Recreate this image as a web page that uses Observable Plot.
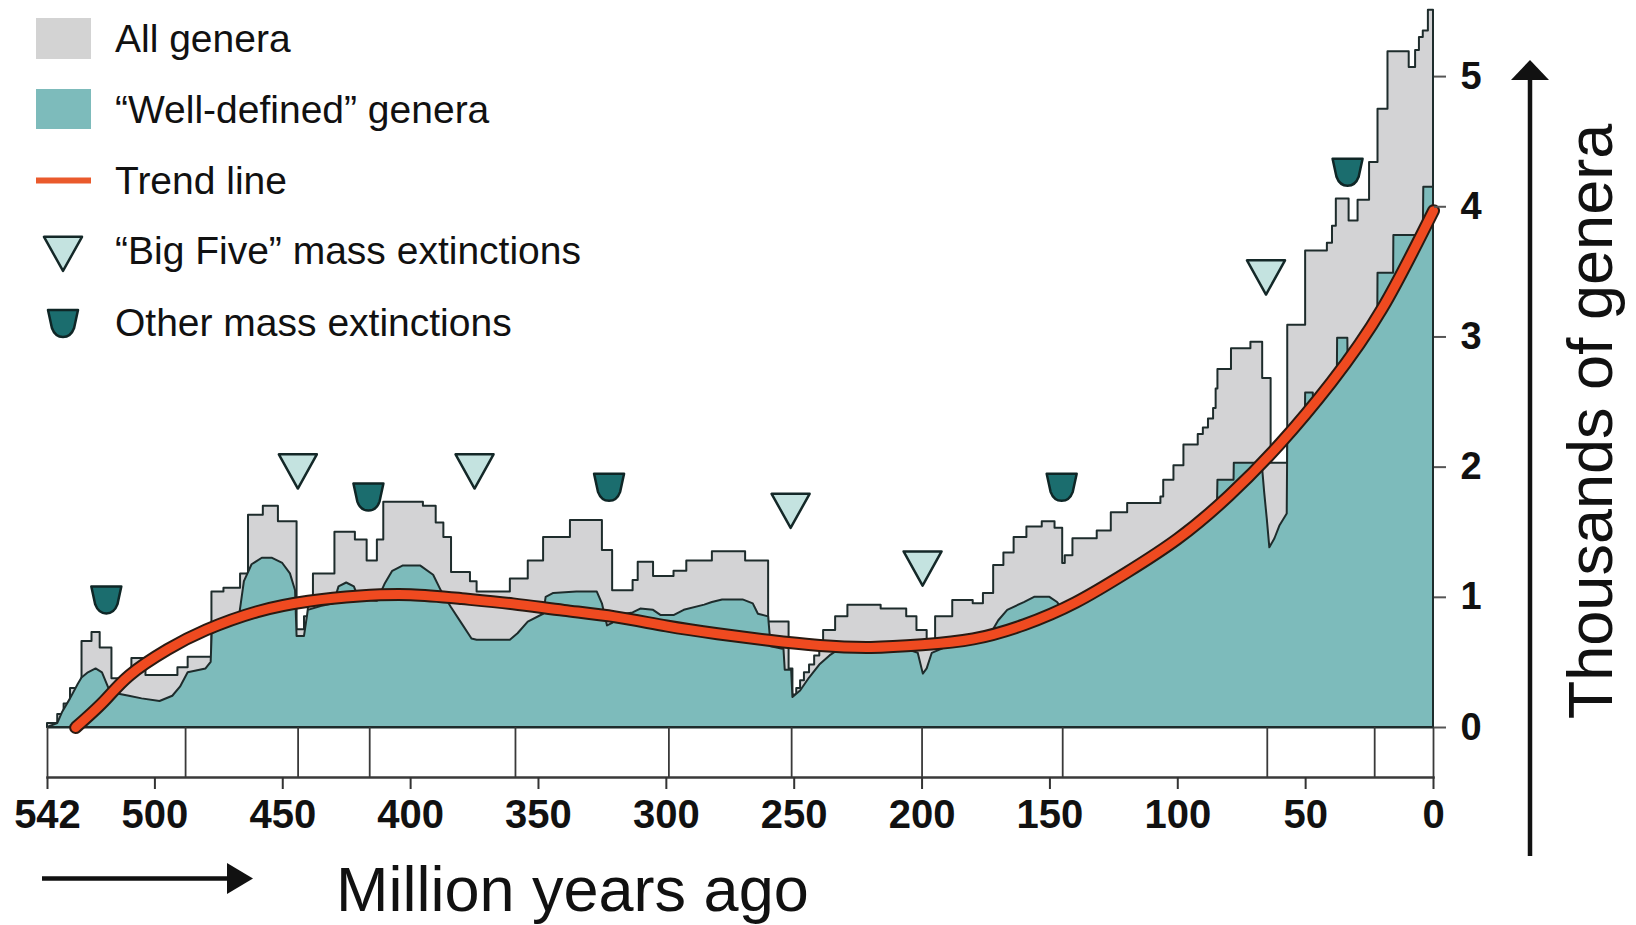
<!DOCTYPE html>
<html><head><meta charset="utf-8">
<script src="https://cdn.jsdelivr.net/npm/d3@7"></script>
<script src="https://cdn.jsdelivr.net/npm/@observablehq/plot@0.6"></script>
<style>html,body{margin:0;padding:0;background:#fff;} #chart{position:relative;width:1636px;height:925px;}</style>
</head><body><div id="chart"></div>
<script>
// ---- DATA (ages in million years ago, values in thousands of genera) ----
const grayAges = [542, 538, 535.5, 533, 528.5, 524.6, 521.4, 516.8, 509, 503.5, 491, 487, 477.7, 473, 466.5, 463.4, 457.6, 451.7, 444.4, 441.5, 440, 438, 429.6, 421.6, 417, 413, 410.5, 395, 390, 387, 384, 376.6, 374, 361, 354, 348, 337.5, 325, 321, 313, 311, 305, 297, 292, 282, 269, 260, 252, 250.5, 249, 247.5, 246, 244, 242, 240, 238.5, 233.8, 229, 216, 206, 202, 198, 194.7, 188, 180, 176, 172, 168, 164, 159, 153, 148, 145, 144, 141, 131.5, 126, 119.6, 106.6, 105.5, 101.5, 97.6, 92, 90, 88, 86, 85, 84.3, 79, 71.4, 66.8, 63.5, 57, 50, 41.5, 39.5, 38, 33, 29.5, 25, 21.7, 17.8, 9.5, 7, 5.5, 4, 2, 0];
const grayValues = [0.03, 0.10, 0.18, 0.30, 0.66, 0.73, 0.61, 0.375, 0.53, 0.40, 0.46, 0.54, 1.04, 1.07, 1.18, 1.63, 1.70, 1.58, 0.75, 0.85, 1.0, 1.18, 1.50, 1.44, 1.28, 1.44, 1.73, 1.70, 1.57, 1.46, 1.19, 1.12, 1.04, 1.14, 1.28, 1.46, 1.59, 1.36, 1.05, 1.13, 1.27, 1.16, 1.20, 1.28, 1.35, 1.28, 0.81, 0.45, 0.25, 0.30, 0.36, 0.42, 0.48, 0.55, 0.62, 0.745, 0.85, 0.94, 0.91, 0.85, 0.745, 0.67, 0.85, 0.975, 0.95, 1.03, 1.245, 1.34, 1.46, 1.54, 1.58, 1.53, 1.26, 1.32, 1.45, 1.51, 1.65, 1.72, 1.77, 1.90, 2.01, 2.17, 2.25, 2.30, 2.37, 2.45, 2.60, 2.75, 2.91, 2.96, 2.68, 2.03, 3.09, 3.66, 3.72, 3.85, 4.06, 3.89, 4.05, 4.34, 4.75, 5.19, 5.07, 5.20, 5.30, 5.35, 5.51, 5.51];

const tealAges = [542, 538, 536, 533, 530, 528.5, 526, 523, 520.5, 518, 515, 510, 505, 498, 493, 490, 487, 480, 478, 477.6, 470, 467, 465, 462, 458, 454, 450, 447, 445, 444.4, 441.5, 440, 435, 430, 428, 425, 422, 420, 413, 410, 407, 403, 396, 391, 388, 384, 380, 376, 374, 361, 358, 354, 348, 347, 344, 335, 327, 325, 323, 321, 319, 313, 310, 305, 302, 297, 293, 285, 282, 278, 270, 266, 264, 260, 259, 254, 253.5, 251, 250.5, 247.5, 244, 240, 236, 233, 220, 206, 201.5, 199.5, 198, 196, 190, 180, 175, 173, 170, 166.5, 160, 156, 150, 147, 144.6, 140, 130, 120, 110, 100, 90, 84.5, 84.3, 78, 77.9, 67, 66, 65, 64, 62, 60, 57.2, 57, 52, 50.1, 50, 47, 46.9, 40, 37.6, 37.5, 33.5, 33.4, 25, 21.8, 21.7, 15.6, 15.5, 5, 4, 3.8, 0];
const tealValues = [0, 0.03, 0.12, 0.22, 0.33, 0.38, 0.42, 0.45, 0.42, 0.30, 0.26, 0.24, 0.22, 0.20, 0.24, 0.31, 0.42, 0.45, 0.50, 0.72, 0.80, 0.84, 1.12, 1.25, 1.30, 1.30, 1.26, 1.18, 1.05, 0.70, 0.70, 0.90, 0.93, 0.95, 1.08, 1.11, 1.08, 0.98, 0.97, 1.10, 1.20, 1.24, 1.24, 1.17, 1.05, 0.92, 0.80, 0.68, 0.67, 0.67, 0.72, 0.81, 0.87, 1.0, 1.03, 1.04, 1.04, 0.95, 0.78, 0.80, 0.86, 0.88, 0.91, 0.90, 0.86, 0.86, 0.90, 0.94, 0.96, 0.98, 0.98, 0.95, 0.87, 0.85, 0.62, 0.60, 0.44, 0.44, 0.23, 0.28, 0.38, 0.48, 0.55, 0.59, 0.59, 0.60, 0.57, 0.41, 0.45, 0.57, 0.62, 0.66, 0.70, 0.72, 0.82, 0.90, 0.96, 1.0, 1.0, 0.96, 0.90, 0.92, 1.03, 1.15, 1.29, 1.41, 1.56, 1.68, 1.90, 1.90, 2.03, 2.03, 1.80, 1.60, 1.38, 1.45, 1.55, 1.64, 2.20, 2.33, 2.37, 2.57, 2.57, 2.45, 2.62, 2.68, 2.99, 2.99, 2.80, 3.04, 3.12, 3.49, 3.49, 3.78, 3.78, 3.75, 4.15, 4.15];

const trendAges = [531, 520, 510, 495, 480, 460, 440, 420, 400, 380, 360, 340, 320, 300, 280, 260, 240, 220, 200, 180, 160, 140, 120, 100, 80, 60, 40, 20, 0];
const trendValues = [0.0, 0.2, 0.40, 0.60, 0.75, 0.89, 0.97, 1.01, 1.02, 0.99, 0.95, 0.90, 0.85, 0.78, 0.72, 0.67, 0.63, 0.615, 0.635, 0.68, 0.79, 0.96, 1.19, 1.45, 1.78, 2.18, 2.65, 3.22, 3.97];

const bigFiveAges = [444.1, 375, 251.4, 199.8, 65.5];
const bigFiveValues = [1.97, 1.97, 1.667, 1.224, 3.46];
const otherAges = [519, 416.5, 322.4, 145.4, 33.6];
const otherValues = [0.98, 1.77, 1.845, 1.845, 4.265];

const periodBounds = [542, 488, 444, 416, 359, 299, 251, 200, 145, 65, 23, 0];
const xTicks = [542, 500, 450, 400, 350, 300, 250, 200, 150, 100, 50, 0];
const yTicks = [0, 1, 2, 3, 4, 5];

const legendLabels = ["All genera", "\u201CWell-defined\u201D genera", "Trend line", "\u201CBig Five\u201D mass extinctions", "Other mass extinctions"];

// ---- tables ----
const gray = grayAges.map((a, i) => ({age: a, v: grayValues[i]}));
const teal = tealAges.map((a, i) => ({age: a, v: tealValues[i]}));
const trend = trendAges.map((a, i) => ({age: a, v: trendValues[i]}));
const bigFive = bigFiveAges.map((a, i) => ({age: a, v: bigFiveValues[i]}));
const other = otherAges.map((a, i) => ({age: a, v: otherValues[i]}));

// ---- symbols ----
const triDown = {draw(ctx, size) {
  const r = Math.sqrt(size / Math.PI);
  ctx.moveTo(-r, -0.88 * r); ctx.lineTo(r, -0.88 * r); ctx.lineTo(0, 0.92 * r); ctx.closePath();
}};
const shield = {draw(ctx, size) {
  const r = Math.sqrt(size / Math.PI);
  ctx.moveTo(-r, -0.9 * r); ctx.lineTo(r, -0.9 * r); ctx.lineTo(0.74 * r, 0.3 * r);
  ctx.quadraticCurveTo(0.52 * r, 0.9 * r, 0, 0.9 * r);
  ctx.quadraticCurveTo(-0.52 * r, 0.9 * r, -0.74 * r, 0.3 * r); ctx.closePath();
}};

const FONT = "'Liberation Sans', Arial, Helvetica, sans-serif";
const GRAY = "#d3d3d5", TEAL = "#7dbbbb", OUT = "#1e2c2c";

const chart = Plot.plot({
  width: 1636, height: 925,
  marginLeft: 47, marginRight: 203, marginTop: 11, marginBottom: 148,
  x: {domain: [542, 0]},
  y: {domain: [-0.384, 5.5]},
  style: {fontFamily: FONT, color: "#111", background: "#fff", overflow: "visible"},
  marks: [
    Plot.areaY(gray, {x: "age", y: "v", curve: "step-after", fill: GRAY, stroke: OUT, strokeWidth: 2, strokeLinejoin: "round"}),
    Plot.areaY(teal, {x: "age", y: "v", curve: "linear", fill: TEAL, stroke: OUT, strokeWidth: 2, strokeLinejoin: "round"}),
    Plot.ruleY([0], {stroke: OUT, strokeWidth: 2}),
    Plot.line(trend, {x: "age", y: "v", curve: "natural", stroke: "#2a1a12", strokeWidth: 13}),
    Plot.line(trend, {x: "age", y: "v", curve: "natural", stroke: "#ef4a20", strokeWidth: 9}),
    Plot.dot(bigFive, {x: "age", y: "v", symbol: triDown, r: 19, fill: "#c4e3e0", stroke: "#142828", strokeWidth: 2.5, strokeLinejoin: "round"}),
    Plot.dot(other, {x: "age", y: "v", symbol: shield, r: 15, fill: "#1b6d6e", stroke: "#0f2626", strokeWidth: 2.5, strokeLinejoin: "round"}),
    Plot.axisX({anchor: "bottom", ticks: periodBounds, tickSize: -50, tickFormat: () => "", label: null, stroke: "#3a3a3a", strokeWidth: 1.8}),
    Plot.frame({anchor: "bottom", stroke: "#3a3a3a", strokeWidth: 2.5}),
    Plot.axisX({anchor: "bottom", ticks: xTicks, tickSize: 12, tickPadding: 10, tickFormat: d => String(d), label: null, fontSize: 40, fontWeight: "bold", strokeWidth: 2, stroke: "#333"}),
    Plot.axisY({anchor: "right", ticks: yTicks, tickSize: 12, tickPadding: 15, tickFormat: d => String(d), label: null, fontSize: 38, fontWeight: "bold", strokeWidth: 2, stroke: "#555"})
  ]
});
document.getElementById("chart").appendChild(chart);

// ---- decorations: legend, axis titles, arrows ----
const svg = d3.select(chart);
const g = svg.append("g").attr("font-family", FONT).attr("fill", "#111").attr("text-anchor", "start");
const rowY = [52, 123, 194, 264, 336];
g.append("rect").attr("x", 36).attr("y", 18).attr("width", 55).attr("height", 41).attr("fill", "#d3d3d3");
g.append("rect").attr("x", 36).attr("y", 89).attr("width", 55).attr("height", 40).attr("fill", TEAL);
g.append("line").attr("x1", 36).attr("x2", 91).attr("y1", 180.5).attr("y2", 180.5).attr("stroke", "#ea5a2c").attr("stroke-width", 6);
const p1 = d3.path(); triDown.draw(p1, Math.PI * 19 * 19);
g.append("path").attr("d", p1.toString()).attr("transform", "translate(63,253.5)")
  .attr("fill", "#c4e3e0").attr("stroke", "#142828").attr("stroke-width", 2.5).attr("stroke-linejoin", "round");
const p2 = d3.path(); shield.draw(p2, Math.PI * 15 * 15);
g.append("path").attr("d", p2.toString()).attr("transform", "translate(63,323.5)")
  .attr("fill", "#1b6d6e").attr("stroke", "#0f2626").attr("stroke-width", 2.5).attr("stroke-linejoin", "round");
legendLabels.forEach((t, i) => {
  g.append("text").attr("x", 115).attr("y", rowY[i]).attr("font-size", 39).attr("text-anchor", "start").text(t);
});
// x title + arrow
g.append("text").attr("x", 336).attr("y", 911).attr("font-size", 63).attr("text-anchor", "start").text("Million years ago");
g.append("line").attr("x1", 42).attr("x2", 232).attr("y1", 878.5).attr("y2", 878.5).attr("stroke", "#111").attr("stroke-width", 4.5);
g.append("path").attr("d", "M227,863 L253,878.5 L227,894 Z").attr("fill", "#111");
// y title + arrow
g.append("text").attr("transform", "translate(1612,421.5) rotate(-90)").attr("text-anchor", "middle").attr("font-size", 63).text("Thousands of genera");
g.append("line").attr("x1", 1530).attr("x2", 1530).attr("y1", 856).attr("y2", 78).attr("stroke", "#111").attr("stroke-width", 4.5);
g.append("path").attr("d", "M1511,80 L1530,60 L1549,80 Z").attr("fill", "#111");
</script>
</body></html>
